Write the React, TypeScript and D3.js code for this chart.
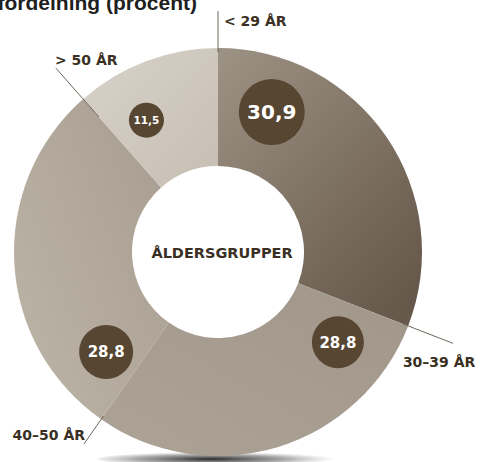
import React from 'react';
import * as d3 from 'd3';

// data
const groups = ['< 29 ÅR', '30–39 ÅR', '40–50 ÅR', '> 50 ÅR'];
const shares = [30.9, 28.8, 28.8, 11.5];
const shareLabels = ['30,9', '28,8', '28,8', '11,5'];
const centerLabel = 'ÅLDERSGRUPPER';
const title = 'Åldersfördelning (procent)';

// layout
const W = 480;
const H = 462;
const cx = 218;
const cy = 252;
const outerR = 204;
const innerR = 86;
const bubbleR = 150;

// per slice: gradient stops + direction (objectBoundingBox)
const sliceGrads = [
  { from: '#9d9384', to: '#66584a', x1: 0, y1: 0, x2: 0.8, y2: 1 },
  { from: '#a0968a', to: '#aca296', x1: 1, y1: 0, x2: 0, y2: 1 },
  { from: '#a69c8f', to: '#bcb3a7', x1: 1, y1: 0, x2: 0, y2: 0.8 },
  { from: '#c6beb2', to: '#d8d2c9', x1: 1, y1: 1, x2: 0, y2: 0 },
];
const bubbleSizes = [33, 26, 27, 17.5];
const bubbleFont = [20, 15, 15, 10.5];
const bubbleOffsetDeg = [21, 15.7, 13.3, 12.9];
const leaderRadii = [[200, 241], [198, 252], [200, 234], [180, 245]];
const labelPlace = [
  { dx: 6, dy: 15, anchor: 'start' },
  { dx: -50, dy: 24, anchor: 'start' },
  { dx: 1, dy: -4, anchor: 'end' },
  { dx: -1, dy: -3, anchor: 'start' },
];

const labelFont = "'DejaVu Sans', sans-serif";
const brown = '#574631';
const textDark = '#3a2f23';

function polar(angle: number, r: number): [number, number] {
  return [cx + r * Math.sin(angle), cy - r * Math.cos(angle)];
}

export default function App() {
  const pie = d3.pie<number>().sort(null).value(d => d)
    .startAngle(0).endAngle(2 * Math.PI);
  const slices = pie(shares);
  const arc = d3.arc<d3.PieArcDatum<number>>()
    .innerRadius(innerR)
    .outerRadius(outerR);

  return (
    <svg width={W} height={H} style={{ position: 'absolute', left: 0, top: 0, background: '#fff' }}>
      <defs>
        {sliceGrads.map((g, i) => (
          <linearGradient key={i} id={`slice-${i}`} x1={g.x1} y1={g.y1} x2={g.x2} y2={g.y2}>
            <stop offset="0%" stopColor={g.from} />
            <stop offset="100%" stopColor={g.to} />
          </linearGradient>
        ))}
        <radialGradient id="shadow" cx="0.45" cy="0.5" r="0.5">
          <stop offset="0%" stopColor="#1e1e1e" stopOpacity={0.95} />
          <stop offset="60%" stopColor="#555" stopOpacity={0.5} />
          <stop offset="100%" stopColor="#888" stopOpacity={0} />
        </radialGradient>
      </defs>

      <text x={197} y={10} textAnchor="end" fontFamily="'Liberation Sans', Arial, sans-serif"
        fontWeight="bold" fontSize={21} fill="#1f1f1f">{title}</text>

      <ellipse cx={cx + 5} cy={cy + outerR + 3} rx={125} ry={7} fill="url(#shadow)" />

      <g transform={`translate(${cx},${cy})`}>
        {slices.map((s, i) => (
          <path key={groups[i]} d={arc(s) || ''} fill={`url(#slice-${i})`} />
        ))}
      </g>

      {slices.map((s, i) => {
        const [r0, r1] = leaderRadii[i];
        const [x0, y0] = polar(s.startAngle, r0);
        const [x1, y1] = polar(s.startAngle, r1);
        const p = labelPlace[i];
        return (
          <g key={`lab-${i}`}>
            <line x1={x0} y1={y0} x2={x1} y2={y1} stroke="#6f665b" strokeWidth={1} />
            <text x={x1 + p.dx} y={y1 + p.dy} textAnchor={p.anchor} fontFamily={labelFont}
              fontWeight="bold" fontSize={14} fill={textDark}>{groups[i]}</text>
          </g>
        );
      })}

      {slices.map((s, i) => {
        const a = s.startAngle + (bubbleOffsetDeg[i] * Math.PI) / 180;
        const [bx, by] = polar(a, bubbleR);
        return (
          <g key={`b-${i}`}>
            <circle cx={bx} cy={by} r={bubbleSizes[i]} fill={brown} />
            <text x={bx} y={by} dy="0.36em" textAnchor="middle" fontFamily={labelFont}
              fontWeight="bold" fontSize={bubbleFont[i]} fill="#fff">{shareLabels[i]}</text>
          </g>
        );
      })}

      <text x={cx + 4} y={cy + 6} textAnchor="middle" fontFamily={labelFont} fontWeight="bold"
        fontSize={14.5} fill={textDark}>{centerLabel}</text>
    </svg>
  );
}
